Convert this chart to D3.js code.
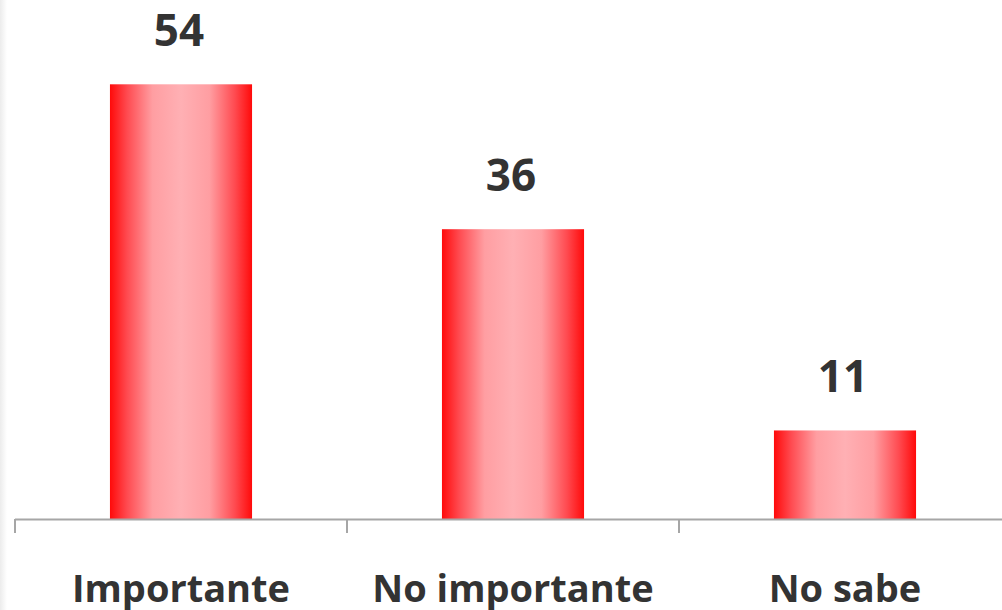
<!DOCTYPE html>
<html><head><meta charset="utf-8">
<script src="https://cdn.jsdelivr.net/npm/d3@7"></script>
<style>html,body{margin:0;padding:0;background:#fff;overflow:hidden}</style>
</head><body>
<svg id="c" width="1002" height="610"></svg>
<script>
const categories = ["Importante", "No importante", "No sabe"];
const values = [54, 36, 11];
const yDomain = [0, 60];

const svg = d3.select("#c");
const W = 1002, H = 610;
const baseY = 519;

// faint left border strip
const defs = svg.append("defs");
const lg = defs.append("linearGradient").attr("id", "edge").attr("x1", "0").attr("x2", "1");
lg.append("stop").attr("offset", "0").attr("stop-color", "#ececec");
lg.append("stop").attr("offset", "1").attr("stop-color", "#ffffff");
svg.append("rect").attr("x", 0).attr("y", 0).attr("width", 7).attr("height", H).attr("fill", "url(#edge)");

const bg = defs.append("linearGradient").attr("id", "barg").attr("x1", "0").attr("x2", "1");
[[0, "#ff0a0a"], [0.12, "#ff4a50"], [0.3, "#ff9ea2"], [0.5, "#ffb0b4"], [0.7, "#ff9ea2"], [0.88, "#ff4a50"], [1, "#ff0a0a"]]
  .forEach(([o, c]) => bg.append("stop").attr("offset", o).attr("stop-color", c));

const x = d3.scaleBand().domain(categories).range([15, 1011]).paddingInner(0.572).paddingOuter(0.286);
const y = d3.scaleLinear().domain(yDomain).range([baseY, 36]);

svg.selectAll("rect.bar").data(values).enter().append("rect")
  .attr("class", "bar")
  .attr("x", (d, i) => x(categories[i]))
  .attr("width", x.bandwidth())
  .attr("y", d => y(d))
  .attr("height", d => y(0) - y(d))
  .attr("fill", "url(#barg)");

// axis
const xStep = d3.scaleBand().domain(categories).range([15, 1011]);
const axis = svg.append("g");
axis.append("line").attr("x1", 15).attr("x2", W).attr("y1", baseY + 0.5).attr("y2", baseY + 0.5)
  .attr("stroke", "#a6a6a6").attr("stroke-width", 2);
const tickXs = categories.map(c => xStep(c));
axis.selectAll("line.tick").data(tickXs).enter().append("line")
  .attr("x1", d => d).attr("x2", d => d).attr("y1", baseY).attr("y2", baseY + 14)
  .attr("stroke", "#a6a6a6").attr("stroke-width", 2);

svg.selectAll("text.val").data(values).enter().append("text")
  .attr("x", (d, i) => x(categories[i]) + x.bandwidth() / 2 - 2)
  .attr("y", d => y(d) - 38)
  .attr("text-anchor", "middle")
  .attr("font-family", "Open Sans, sans-serif")
  .attr("font-weight", "bold")
  .attr("font-size", 44)
  .attr("fill", "#333333")
  .text(d => d);

svg.selectAll("text.cat").data(categories).enter().append("text")
  .attr("x", d => x(d) + x.bandwidth() / 2)
  .attr("y", 602)
  .attr("text-anchor", "middle")
  .attr("font-family", "Open Sans, sans-serif")
  .attr("font-weight", "bold")
  .attr("font-size", 38)
  .attr("fill", "#333333")
  .text(d => d);
</script>
</body></html>
